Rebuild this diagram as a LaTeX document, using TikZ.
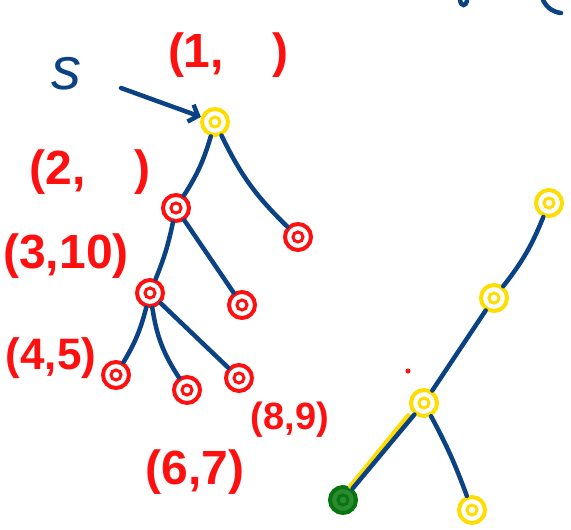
\documentclass[tikz,border=0pt]{standalone}
\usepackage{fontspec}
\setmainfont{Liberation Sans}
\usetikzlibrary{arrows.meta}
\definecolor{InkBlue}{HTML}{0B4283}
\definecolor{PenRed}{HTML}{FF1010}
\definecolor{PenYellow}{HTML}{FFDD00}
\definecolor{PenGreen}{HTML}{08750F}

\begin{document}
\begin{tikzpicture}[x=1pt, y=-1pt,
    edge/.style={draw=InkBlue, line width=4.5pt, line cap=round},
    vtx/.style={circle, draw=#1, line width=4pt, minimum size=26pt, inner sep=0pt,
      path picture={\draw[#1, line width=3pt] (path picture bounding box.center) circle (5pt);}},
    redvtx/.style={vtx=PenRed},
    yelvtx/.style={vtx=PenYellow},
    grnvtx/.style={vtx=PenGreen, fill=PenGreen!85},
    lbl/.style={text=PenRed, font=\bfseries\fontsize{48}{48}\selectfont}
  ]
    \useasboundingbox (0,0) rectangle (571,530);

    % left tree
    \node[yelvtx] (root) at (215,122) {};
    \node[redvtx] (a) at (176,208) {};
    \node[redvtx] (b) at (298,237) {};
    \node[redvtx] (c) at (150,293) {};
    \node[redvtx] (d) at (242,305) {};
    \node[redvtx] (e) at (116,375) {};
    \node[redvtx] (f) at (187,390) {};
    \node[redvtx] (g) at (239,378) {};

    \node[text=InkBlue, font=\itshape\fontsize{60}{60}\selectfont] (src) at (66,74) {s};
    \coordinate (stail) at (121,88);

    \draw[edge, -{Straight Barb[length=8pt, width=18pt]}] (stail) -- (root);
    \draw[edge] (root) to[bend left=8] (a);
    \draw[edge] (root) to[bend right=10] (b);
    \draw[edge] (a) to[bend left=5] (c);
    \draw[edge] (a) -- (d);
    \draw[edge] (c) to[bend left=8] (e);
    \draw[edge] (c) to[bend right=12] (f);
    \draw[edge] (c) -- (g);

    \node[lbl] (l1) at (228,55) {(1,\quad)};
    \node[lbl] (l2) at (90,172) {(2,\quad)};
    \node[lbl] (l3) at (66,256) {(3,10)};
    \node[lbl, font=\bfseries\fontsize{44}{44}\selectfont] (l4) at (51,358) {(4,5)};
    \node[lbl] (l6) at (195,472) {(6,7)};
    \node[lbl, font=\bfseries\fontsize{38}{38}\selectfont] (l8) at (290,420) {(8,9)};

    % right tree
    \node[yelvtx] (p) at (549,203) {};
    \node[yelvtx] (q) at (494,298) {};
    \node[yelvtx] (r) at (424,403) {};
    \node[grnvtx] (t) at (343,500) {};
    \node[yelvtx] (u) at (472,510) {};

    \draw[PenYellow, line width=5pt, line cap=round] ([shift={(-5,2)}]r.south west) -- ([shift={(-3,-3)}]t.north east);
    \draw[edge] (p) to[bend left=8] (q);
    \draw[edge] (q) -- (r);
    \draw[edge] (r) -- (t);
    \draw[edge] (r) to[bend left=4] (u);
    \fill[PenRed] (408,371) circle (2.5pt);

    % cut-off strokes at the top edge
    \draw[edge] (460,0) .. controls (461,7) and (466,6) .. (467,1);
    \draw[edge] (543,0) .. controls (547,8) and (553,12) .. (561,13);
  \end{tikzpicture}
\end{document}
